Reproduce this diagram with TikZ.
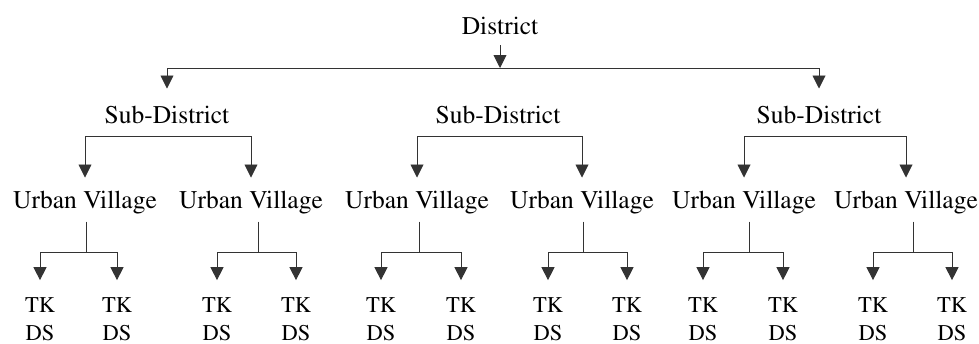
\documentclass[tikz,border=0pt]{standalone}
\usepackage[T1]{fontenc}
\usepackage{times}
\usetikzlibrary{arrows.meta}
\tikzset{tipA/.tip={Triangle[length=13pt,width=13pt]}}
\begin{document}
\begin{tikzpicture}[x=1pt,y=-1pt,
  lbl/.style={anchor=base, inner sep=0pt, font=\fontsize{25.5}{30}\selectfont},
  leaf/.style={anchor=base, inner sep=0pt, font=\fontsize{22.5}{27}\selectfont},
  link/.style={line width=0.9pt, draw=black!80},
  arr/.style={link, -tipA},
  arrboth/.style={link, tipA-tipA}]
\useasboundingbox (0,0) rectangle (979,343);
% nodes
\node[lbl] (dist) at (500,34) {District};
\node[lbl] (sd1) at (167,123) {Sub-District};
\node[lbl] (sd2) at (498,123) {Sub-District};
\node[lbl] (sd3) at (819,123) {Sub-District};
\foreach \i/\x in {1/85,2/251,3/417,4/582,5/744,6/906}
  \node[lbl] (uv\i) at (\x,208) {Urban Village};
\foreach \i/\x in {1/40,2/117,3/217,4/296,5/381,6/461,7/548,8/627,9/703,10/783,11/873,12/952}{
  \node[leaf] (tk\i) at (\x,312) {TK};
  \node[leaf] (ds\i) at (\x,340) {DS};
}
% district level
\coordinate (bus) at (500,68);
\draw[arr, shorten <=11pt] (dist.south) -- (bus);
\draw[arr, shorten >=17pt] (bus) -| (sd1.north);
\draw[arr, shorten >=17pt] (bus) -| (sd3.north);
% sub-district brackets
\foreach \s/\a/\b in {1/1/2,2/3/4,3/5/6}{
  \coordinate (h\s) at ([yshift=-13pt]sd\s.south);
  \draw[arrboth, shorten <=13pt, shorten >=13pt]
    (uv\a.north) -- (uv\a.north |- h\s) -- (uv\b.north |- h\s) -- (uv\b.north);
}
% urban village brackets
\foreach \u/\x/\a/\b in {1/86/1/2,2/258/3/4,3/419/5/6,4/583/7/8,5/749/9/10,6/913/11/12}{
  \coordinate (j\u) at (\x,252);
  \draw[link, shorten <=8pt] (uv\u.south -| j\u) -- (j\u);
  \draw[arr, shorten >=17pt] (j\u) -| (tk\a.north);
  \draw[arr, shorten >=17pt] (j\u) -| (tk\b.north);
}
\end{tikzpicture}
\end{document}
